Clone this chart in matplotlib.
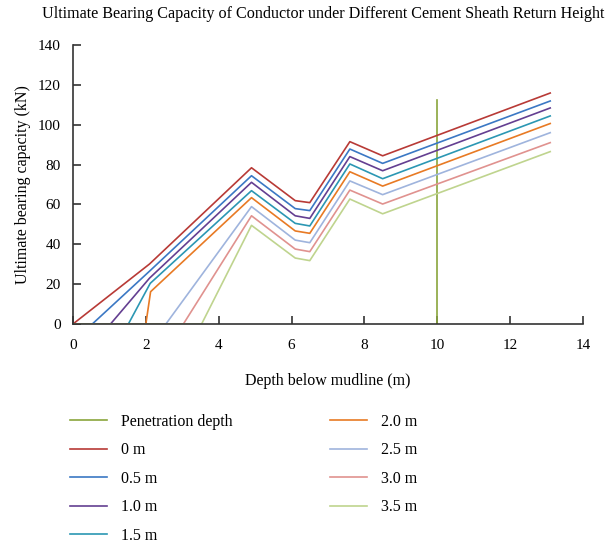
import numpy as np
import matplotlib
matplotlib.use("Agg")
import matplotlib.pyplot as plt

plt.rcParams["font.family"] = ["Liberation Serif", "DejaVu Serif"]

# return heights of cement sheath
labels = ["0 m", "0.5 m", "1.0 m", "1.5 m", "2.0 m", "2.5 m", "3.0 m", "3.5 m"]
colors = ["#b83a36", "#3b78c4", "#643f91", "#2b97b3", "#e87a24",
          "#9fb4dd", "#e0928f", "#bfd48e"]

# depth / capacity points for each curve
depth = [
    [0, 2.1, 4.9, 6.1, 6.5, 7.6, 8.5, 13.1],
    [0, 0.53, 2.1, 4.9, 6.1, 6.5, 7.6, 8.5, 13.1],
    [0, 1.03, 2.1, 4.9, 6.1, 6.5, 7.6, 8.5, 13.1],
    [0, 1.52, 2.12, 4.9, 6.1, 6.5, 7.6, 8.5, 13.1],
    [0, 2.0, 2.13, 4.9, 6.1, 6.5, 7.6, 8.5, 13.1],
    [0, 2.55, 4.9, 6.1, 6.5, 7.6, 8.5, 13.1],
    [0, 3.03, 4.9, 6.1, 6.5, 7.6, 8.5, 13.1],
    [0, 3.53, 4.9, 6.1, 6.5, 7.6, 8.5, 13.1],
]
capacity = [
    [0, 30.1, 78.4, 61.9, 60.9, 91.5, 84.4, 115.9],
    [0, 0, 26.5, 74.4, 57.9, 56.9, 87.8, 80.6, 111.9],
    [0, 0, 23.0, 71.1, 54.3, 53.0, 84.0, 76.9, 108.4],
    [0, 0, 20.4, 66.9, 50.5, 49.2, 80.3, 72.9, 104.4],
    [0, 0, 16.2, 63.4, 46.7, 45.5, 76.4, 69.2, 100.6],
    [0, 0, 58.9, 42.1, 40.8, 71.8, 64.9, 96.0],
    [0, 0, 54.3, 37.6, 36.3, 67.2, 60.2, 91.0],
    [0, 0, 49.5, 33.1, 31.8, 62.7, 55.3, 86.5],
]

pen_depth = 10
pen_top = 112.4

fig = plt.figure(figsize=(6.08, 5.46), dpi=100)
ax = fig.add_axes([73 / 608, 1 - 324 / 546, 510 / 608, 279 / 546])

ax.plot([pen_depth, pen_depth], [0, pen_top], color="#8aa63c", lw=1.2,
        label="Penetration depth")
for x, y, lab, c in zip(depth, capacity, labels, colors):
    ax.plot(x, y, color=c, lw=1.2, label=lab)

ax.set_xlim(0, 14)
ax.set_ylim(0, 140)
ax.set_xticks(np.arange(0, 15, 2))
ax.set_yticks(np.arange(0, 141, 20))
for s in ["top", "right"]:
    ax.spines[s].set_visible(False)
for s in ["left", "bottom"]:
    ax.spines[s].set_color("#333333")
    ax.spines[s].set_linewidth(1.2)
ax.tick_params(direction="in", length=6, width=1.2, color="#333333",
               labelsize=11)
ax.tick_params(axis="x", pad=11)
ax.tick_params(axis="y", pad=9)

ax.set_xlabel("Depth below mudline (m)", fontsize=11.5, labelpad=15)
ax.set_ylabel("Ultimate bearing capacity (kN)", fontsize=11.5, labelpad=5)
fig.text(0.531, 1 - 14 / 546, "Ultimate Bearing Capacity of Conductor under "
         "Different Cement Sheath Return Height", ha="center", va="center",
         fontsize=11.6)

fig.legend(loc="upper left", bbox_to_anchor=(70 / 608, 1 - 414 / 546),
           ncol=2, frameon=False, fontsize=11.5, handlelength=2.3,
           handletextpad=0.9, labelspacing=0.78, columnspacing=6.1,
           borderpad=0, borderaxespad=0)

fig.savefig("out.png", dpi=100)
